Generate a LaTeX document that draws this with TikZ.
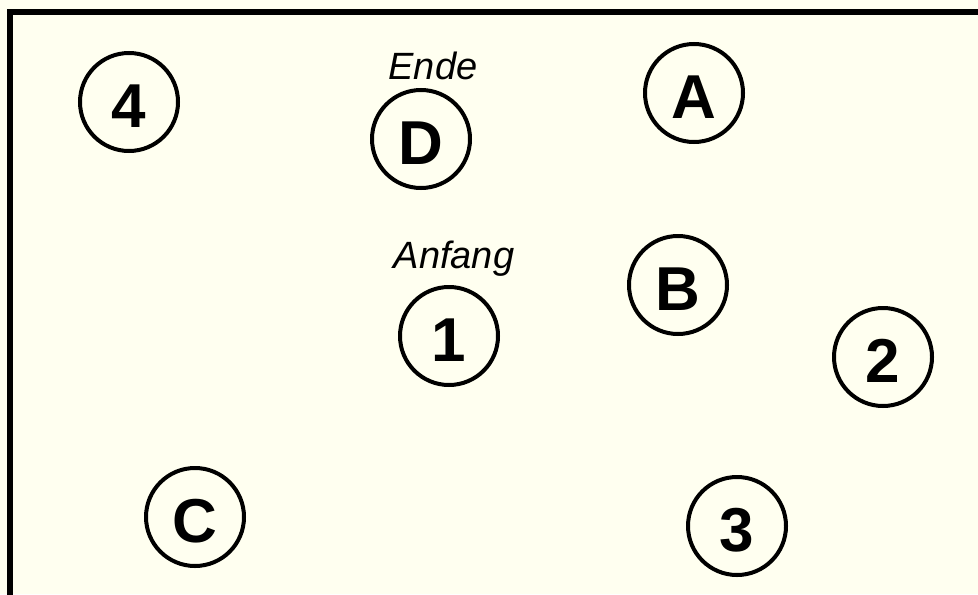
\documentclass[tikz,border=0pt]{standalone}
\usepackage{fontspec}
\setmainfont{Liberation Sans}
\definecolor{bgcream}{RGB}{255,255,240}
\begin{document}
\begin{tikzpicture}[x=0.5pt,y=-0.5pt,
  ring/.style={circle,draw=black,line width=2pt,minimum size=49pt,inner sep=0pt,
    text height=25pt,text depth=0pt,font=\fontsize{31}{31}\selectfont\bfseries},
  tag/.style={font=\fontsize{19}{19}\selectfont\itshape,inner sep=0pt}]
\fill[bgcream] (0,0) rectangle (978,594);
\useasboundingbox (0,0) rectangle (978,594);
\draw[line width=3pt] (9.5,700) -- (9.5,11.5) -- (1100,11.5);
\node[ring] (n4) at (129,102) {4};
\node[ring] (nD) at (421,139) {D};
\node[ring] (nA) at (694,93) {A};
\node[ring] (nB) at (678,285) {B};
\node[ring] (n1) at (449,336) {1};
\node[ring] (n2) at (883,357) {2};
\node[ring] (nC) at (195,517) {C};
\node[ring] (n3) at (737,526) {3};
\node[tag] (ende) at (433,66) {Ende};
\node[tag] (anfang) at (454,259) {Anfang};
\end{tikzpicture}
\end{document}
